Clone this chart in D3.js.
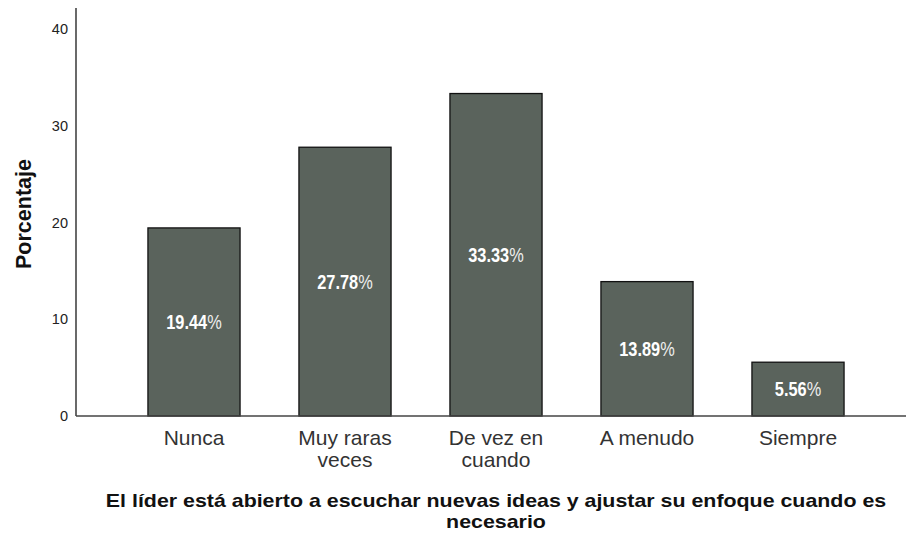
<!DOCTYPE html>
<html>
<head>
<meta charset="utf-8">
<script src="https://cdn.jsdelivr.net/npm/d3@7"></script>
<style>
  html, body { margin: 0; padding: 0; background: #fff; }
  svg { display: block; }
</style>
</head>
<body>
<svg id="chart" width="906" height="535"></svg>
<script>
const categories = [["Nunca"], ["Muy raras", "veces"], ["De vez en", "cuando"], ["A menudo"], ["Siempre"]];
const values = [19.44, 27.78, 33.33, 13.89, 5.56];
const yTicks = [0, 10, 20, 30, 40];
const xTitle = ["El líder está abierto a escuchar nuevas ideas y ajustar su enfoque cuando es", "necesario"];
const yTitle = "Porcentaje";

const svg = d3.select("#chart");
const plotLeft = 76, plotRight = 906, plotTop = 8, plotBottom = 416;

const x = d3.scaleBand()
  .domain(d3.range(values.length))
  .range([118.5, 873.5])
  .paddingInner(0.39)
  .paddingOuter(0.195);

const y = d3.scaleLinear().domain([0, 40]).range([plotBottom, 29]);

// y axis: line and tick labels only
svg.append("line")
  .attr("x1", plotLeft).attr("x2", plotLeft)
  .attr("y1", plotTop).attr("y2", plotBottom)
  .attr("stroke", "#1a1a1a").attr("stroke-width", 1.3);

svg.append("g").selectAll("text").data(yTicks).join("text")
  .attr("x", plotLeft - 8).attr("y", d => y(d))
  .attr("dy", "0.36em")
  .attr("text-anchor", "end")
  .attr("font-family", "Liberation Sans, Arial, sans-serif")
  .attr("font-size", 14.5)
  .attr("fill", "#222")
  .text(d => d);

// bars
const bw = x.bandwidth();
svg.append("g").selectAll("rect").data(values).join("rect")
  .attr("x", (d, i) => x(i))
  .attr("y", d => y(d))
  .attr("width", bw)
  .attr("height", d => y(0) - y(d))
  .attr("fill", "#5a635c")
  .attr("stroke", "#111")
  .attr("stroke-width", 1.3);

// x baseline
svg.append("line")
  .attr("x1", plotLeft).attr("x2", plotRight)
  .attr("y1", plotBottom).attr("y2", plotBottom)
  .attr("stroke", "#444").attr("stroke-width", 1.5);

// value labels centred in bars, horizontally condensed
const lbl = svg.append("g").selectAll("g").data(values).join("g")
  .attr("transform", (d, i) => `translate(${x(i) + bw / 2},${(y(d) + y(0)) / 2}) scale(0.84,1)`)
  .append("text")
  .attr("dy", "0.36em")
  .attr("text-anchor", "middle")
  .attr("font-family", "Liberation Sans, Arial, sans-serif")
  .attr("font-size", 19.5)
  .attr("fill", "#fff");
lbl.append("tspan").attr("font-weight", "bold")
  .text(d => d.toFixed(2));
lbl.append("tspan").attr("fill", "#eee").text("%");

// category labels
const cat = svg.append("g").selectAll("text").data(categories).join("text")
  .attr("x", (d, i) => x(i) + bw / 2)
  .attr("y", 445)
  .attr("text-anchor", "middle")
  .attr("font-family", "Liberation Sans, Arial, sans-serif")
  .attr("font-size", 21)
  .attr("fill", "#333");
cat.selectAll("tspan").data(d => d).join("tspan")
  .attr("x", function() { return this.parentNode.getAttribute("x"); })
  .attr("dy", (d, i) => i === 0 ? 0 : 22)
  .text(d => d);

// x axis title, two lines, slightly widened
svg.append("g")
  .attr("transform", "translate(496,0) scale(1.175,1)")
  .selectAll("text").data(xTitle).join("text")
  .attr("x", 0)
  .attr("y", (d, i) => 507 + i * 21)
  .attr("text-anchor", "middle")
  .attr("font-family", "Liberation Sans, Arial, sans-serif")
  .attr("font-weight", "bold")
  .attr("font-size", 18.2)
  .attr("fill", "#111")
  .text(d => d);

// y axis title
svg.append("text")
  .attr("transform", "translate(31,214) rotate(-90)")
  .attr("text-anchor", "middle")
  .attr("font-family", "Liberation Sans, Arial, sans-serif")
  .attr("font-weight", "bold")
  .attr("font-size", 21.5)
  .attr("fill", "#111")
  .text(yTitle);
</script>
</body>
</html>
